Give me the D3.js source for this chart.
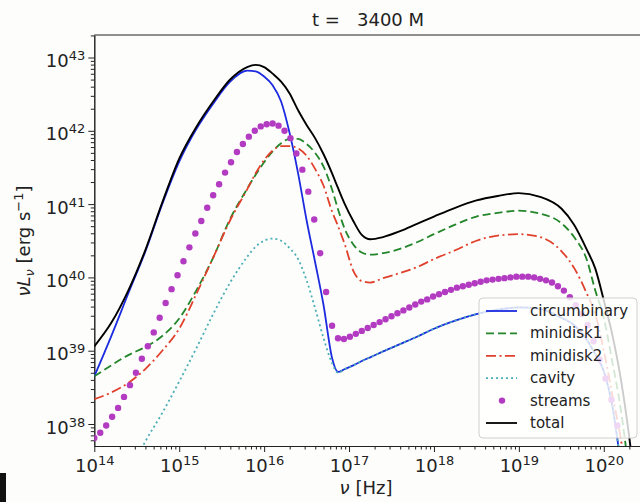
<!DOCTYPE html>
<html>
<head>
<meta charset="utf-8">
<script src="https://cdn.jsdelivr.net/npm/d3@7"></script>
<style>
body { margin:0; background:#fdfdfb; }
svg { font-family: "DejaVu Sans", sans-serif; }
.axis path, .axis line { stroke:#222; }
text { white-space: pre; }
</style>
</head>
<body>
<div id="sed"></div>
<script>
// log10(nu) grid for the line curves
var logNu = [14.0, 14.2, 14.4, 14.6, 14.8, 15.0, 15.2, 15.4, 15.6, 15.8,
  15.9, 16.0, 16.1, 16.2, 16.3, 16.4, 16.5, 16.6, 16.7, 16.8,
  16.87, 16.95, 17.05, 17.15, 17.25, 17.4, 17.6, 17.8, 18.0, 18.25,
  18.5, 18.75, 19.0, 19.25, 19.5, 19.65, 19.8, 19.9, 20.0, 20.1,
  20.2, 20.3, 20.4];

// log10(nu L_nu)
var circumbinary = [38.65, 39.20, 39.78, 40.35, 41.00, 41.58, 42.02, 42.37, 42.67, 42.82,
  42.81, 42.74, 42.62, 42.40, 41.97, 41.42, 40.78, 40.21, 39.62, 38.90,
  38.71, 38.75, 38.80, 38.86, 38.91, 38.99, 39.09, 39.19, 39.30, 39.41,
  39.50, 39.56, 39.59, 39.57, 39.45, 39.35, 39.15, 38.95, 38.72, 38.25,
  37.45, 36.5, 35.5];
var minidisk1 = [38.65, 38.80, 38.94, 39.05, 39.20, 39.44, 39.82, 40.27, 40.80, 41.21,
  41.40, 41.57, 41.72, 41.83, 41.89, 41.89, 41.82, 41.70, 41.51, 41.20,
  40.93, 40.66, 40.45, 40.34, 40.31, 40.33, 40.39, 40.48, 40.59, 40.72,
  40.83, 40.88, 40.91, 40.87, 40.74, 40.55, 40.24, 39.82, 39.45, 38.85,
  38.2, 37.3, 36.2];
var minidisk2 = [38.34, 38.43, 38.56, 38.75, 39.00, 39.30, 39.77, 40.27, 40.78, 41.20,
  41.42, 41.60, 41.73, 41.79, 41.79, 41.76, 41.66, 41.48, 41.25, 40.90,
  40.70, 40.45, 40.09, 39.95, 39.93, 39.99, 40.06, 40.14, 40.25, 40.37,
  40.50, 40.57, 40.59, 40.55, 40.36, 40.13, 39.78, 39.50, 39.00, 38.40,
  37.80, 37.0, 36.0];
var cavity = [36.3, 36.8, 37.3, 37.76, 38.15, 38.58, 39.03, 39.50, 39.93, 40.28,
  40.42, 40.50, 40.53, 40.50, 40.40, 40.25, 39.96, 39.58, 39.17, 38.83,
  38.70, 38.75, 38.80, 38.86, 38.91, 38.99, 39.09, 39.19, 39.30, 39.41,
  39.50, 39.56, 39.59, 39.57, 39.45, 39.35, 39.15, 38.95, 38.72, 38.25,
  37.45, 36.5, 35.5];
var total = [39.06, 39.38, 39.82, 40.37, 41.02, 41.62, 42.05, 42.40, 42.70, 42.87,
  42.90, 42.87, 42.78, 42.67, 42.51, 42.28, 42.08, 41.90, 41.68, 41.42,
  41.22, 41.00, 40.77, 40.58, 40.52, 40.55, 40.63, 40.73, 40.83, 40.95,
  41.05, 41.11, 41.15, 41.10, 40.94, 40.72, 40.38, 40.12, 39.69, 39.22,
  38.62, 37.82, 36.8];

// streams are drawn as dots, on their own frequency grid
var streamNu = [14.00, 14.07, 14.14, 14.21, 14.28, 14.35, 14.42, 14.49, 14.56, 14.63,
  14.70, 14.77, 14.84, 14.91, 14.98, 15.05, 15.12, 15.19, 15.26, 15.33,
  15.40, 15.47, 15.54, 15.61, 15.68, 15.75, 15.82, 15.89, 15.96, 16.03,
  16.10, 16.17, 16.24, 16.31, 16.38, 16.45, 16.52, 16.59, 16.66, 16.73,
  16.80, 16.87, 16.94, 17.01, 17.08, 17.15, 17.22, 17.29, 17.36, 17.43,
  17.50, 17.57, 17.64, 17.71, 17.78, 17.85, 17.92, 17.99, 18.06, 18.13,
  18.20, 18.27, 18.34, 18.41, 18.48, 18.55, 18.62, 18.69, 18.76, 18.83,
  18.90, 18.97, 19.04, 19.11, 19.18, 19.25, 19.32, 19.39, 19.46, 19.53,
  19.60, 19.67, 19.74, 19.81, 19.88, 19.95, 20.02, 20.09, 20.16, 20.23];
var streams = [37.81, 37.88, 37.98, 38.10, 38.22, 38.37, 38.53, 38.70, 38.89, 39.06,
  39.25, 39.45, 39.65, 39.84, 40.03, 40.22, 40.41, 40.60, 40.77, 40.95,
  41.12, 41.27, 41.43, 41.57, 41.71, 41.82, 41.92, 42.00, 42.06, 42.09,
  42.10, 42.07, 42.00, 41.90, 41.69, 41.47, 41.17, 40.79, 40.33, 39.80,
  39.34, 39.17, 39.16, 39.19, 39.23, 39.27, 39.31, 39.35, 39.39, 39.43,
  39.47, 39.51, 39.55, 39.59, 39.63, 39.67, 39.70, 39.74, 39.77, 39.80,
  39.83, 39.86, 39.88, 39.90, 39.92, 39.94, 39.96, 39.97, 39.98, 39.99,
  40.00, 40.01, 40.01, 40.01, 40.00, 39.98, 39.96, 39.93, 39.88, 39.82,
  39.73, 39.62, 39.50, 39.35, 39.13, 38.88, 38.62, 38.33, 37.98, 37.60];

var xTickExp = [14, 15, 16, 17, 18, 19, 20];
var yTickExp = [38, 39, 40, 41, 42, 43];
var legendNames = ["circumbinary", "minidisk1", "minidisk2", "cavity", "streams", "total"];

var margin = {top:35, right:-2, bottom:56, left:94.3};
var width = 640 - margin.left - margin.right;
var height = 502 - margin.top - margin.bottom;

//scales
var x = d3.scaleLog()
      .domain([1e14, Math.pow(10, 20.45)])
      .range([0, width]);
var y = d3.scaleLog()
      .domain([Math.pow(10, 37.70), Math.pow(10, 43.307)])
      .range([height, 0]);

var root = d3.select("#sed").append("svg")
      .attr("width", 640)
      .attr("height", 502);

var svg = root.append("g")
      .attr("transform", "translate(" + margin.left + "," + margin.top + ")");

svg.append("clipPath").attr("id", "plotclip")
    .append("rect")
      .attr("width", width)
      .attr("height", height);

// minor ticks
var isMinor = (v) => Math.abs(Math.log10(v) - Math.round(Math.log10(v))) > 1e-6;
svg.append("g")
      .attr("class", "axis")
      .attr("transform", "translate(0," + height + ")")
      .call(d3.axisBottom(x).tickValues(x.ticks().filter(isMinor)).tickSize(3.5).tickSizeOuter(0).tickFormat(""));
svg.append("g")
      .attr("class", "axis")
      .call(d3.axisLeft(y).tickValues(y.ticks().filter(isMinor)).tickSize(3.5).tickSizeOuter(0).tickFormat(""));

// major ticks, labels as 10^n
function powLabel(sel, exps) {
  sel.attr("font-family", "DejaVu Sans").attr("font-size", 18);
  sel.selectAll(".tick text").each(function(d, i) {
    var t = d3.select(this).text(null)
          .style("font-size", "18px")
          .attr("fill", "#222");
    t.append("tspan").text("10");
    t.append("tspan").attr("dy", -7).style("font-size", "13px").text(exps[i]);
  });
}

var gx = svg.append("g")
      .attr("class", "axis")
      .attr("transform", "translate(0," + height + ")")
      .call(d3.axisBottom(x).tickValues(xTickExp.map(e => Math.pow(10, e)))
            .tickSize(6).tickSizeOuter(0).tickPadding(7).tickFormat(""));
powLabel(gx, xTickExp);

var gy = svg.append("g")
      .attr("class", "axis")
      .call(d3.axisLeft(y).tickValues(yTickExp.map(e => Math.pow(10, e)))
            .tickSize(6).tickSizeOuter(0).tickPadding(3).tickFormat(""));
gy.selectAll(".tick text").attr("dy", "0.5em");
powLabel(gy, yTickExp);

// top and right spines
svg.append("line").attr("x1", 0).attr("x2", width).attr("y1", 0).attr("y2", 0)
      .attr("stroke", "#222");
svg.append("line").attr("x1", width).attr("x2", width).attr("y1", 0).attr("y2", height)
      .attr("stroke", "#222");

var plot = svg.append("g").attr("clip-path", "url(#plotclip)");

var line = d3.line()
      .x((d) => x(Math.pow(10, d[0])))
      .y((d) => y(Math.pow(10, d[1])))
      .curve(d3.curveMonotoneX);

var series = [
  {vals: circumbinary, color: "#1c2be0", dash: null},
  {vals: minidisk1, color: "#23862a", dash: "8,4"},
  {vals: minidisk2, color: "#e0402c", dash: "10,3.5,2,3.5"},
  {vals: cavity, color: "#4aaeb6", dash: "2,3"}
];

series.forEach((s) => {
  plot.append("path")
      .datum(logNu.map((v, i) => [v, s.vals[i]]))
      .attr("d", line)
      .attr("fill", "none")
      .attr("stroke", s.color)
      .attr("stroke-width", 1.8)
      .attr("stroke-dasharray", s.dash);
});

plot.selectAll("circle.stream")
    .data(streamNu.map((v, i) => [v, streams[i]]))
    .enter()
    .append("circle")
      .attr("class", "stream")
      .attr("r", 3.2)
      .attr("cx", (d) => x(Math.pow(10, d[0])))
      .attr("cy", (d) => y(Math.pow(10, d[1])))
      .attr("fill", "#b23bc2");

plot.append("path")
      .datum(logNu.map((v, i) => [v, total[i]]))
      .attr("d", line)
      .attr("fill", "none")
      .attr("stroke", "#000")
      .attr("stroke-width", 1.9);

// title and axis labels
root.append("text")
      .attr("x", 368).attr("y", 26)
      .attr("text-anchor", "middle")
      .attr("font-size", 18).attr("fill", "#222")
      .text("t =   3400 M");

var xl = root.append("text")
      .attr("x", 366).attr("y", 494)
      .attr("text-anchor", "middle")
      .attr("font-size", 18).attr("fill", "#222");
xl.append("tspan").attr("font-style", "italic").text("ν");
xl.append("tspan").text(" [Hz]");

var yl = root.append("text")
      .attr("transform", "translate(29.5,241) rotate(-90)")
      .attr("text-anchor", "middle")
      .attr("font-size", 18).attr("fill", "#222");
yl.append("tspan").attr("font-style", "italic").text("νL");
yl.append("tspan").attr("font-style", "italic").attr("font-size", 13).attr("dy", 4).text("ν");
yl.append("tspan").attr("dy", -4).text(" [erg s");
yl.append("tspan").attr("font-size", 13).attr("dy", -7).text("−1");
yl.append("tspan").attr("dy", 7).text("]");

// legend
var lg = root.append("g");
lg.append("rect")
      .attr("x", 479).attr("y", 298)
      .attr("width", 158).attr("height", 140)
      .attr("rx", 4)
      .attr("fill", "#fff").attr("fill-opacity", 0.8)
      .attr("stroke", "#d0d0d0");

var legendStyle = [
  {color: "#1c2be0", dash: null},
  {color: "#23862a", dash: "8,4"},
  {color: "#e0402c", dash: "10,3.5,2,3.5"},
  {color: "#4aaeb6", dash: "2,3"},
  {color: "#b23bc2", dot: true},
  {color: "#000", dash: null}
];

legendNames.forEach((name, i) => {
  var ly = 311 + i * 22.4;
  var st = legendStyle[i];
  if (st.dot) {
    lg.append("circle").attr("cx", 502).attr("cy", ly).attr("r", 3.2).attr("fill", st.color);
  } else {
    lg.append("line")
      .attr("x1", 486).attr("x2", 517).attr("y1", ly).attr("y2", ly)
      .attr("stroke", st.color).attr("stroke-width", 1.8)
      .attr("stroke-dasharray", st.dash);
  }
  lg.append("text")
      .attr("x", 530).attr("y", ly + 5)
      .attr("font-size", 15).attr("fill", "#222")
      .text(name);
});

// dark edge at the bottom left of the frame
root.append("rect")
      .attr("x", 0).attr("y", 473)
      .attr("width", 6).attr("height", 29)
      .attr("fill", "#111");
</script>
</body>
</html>
